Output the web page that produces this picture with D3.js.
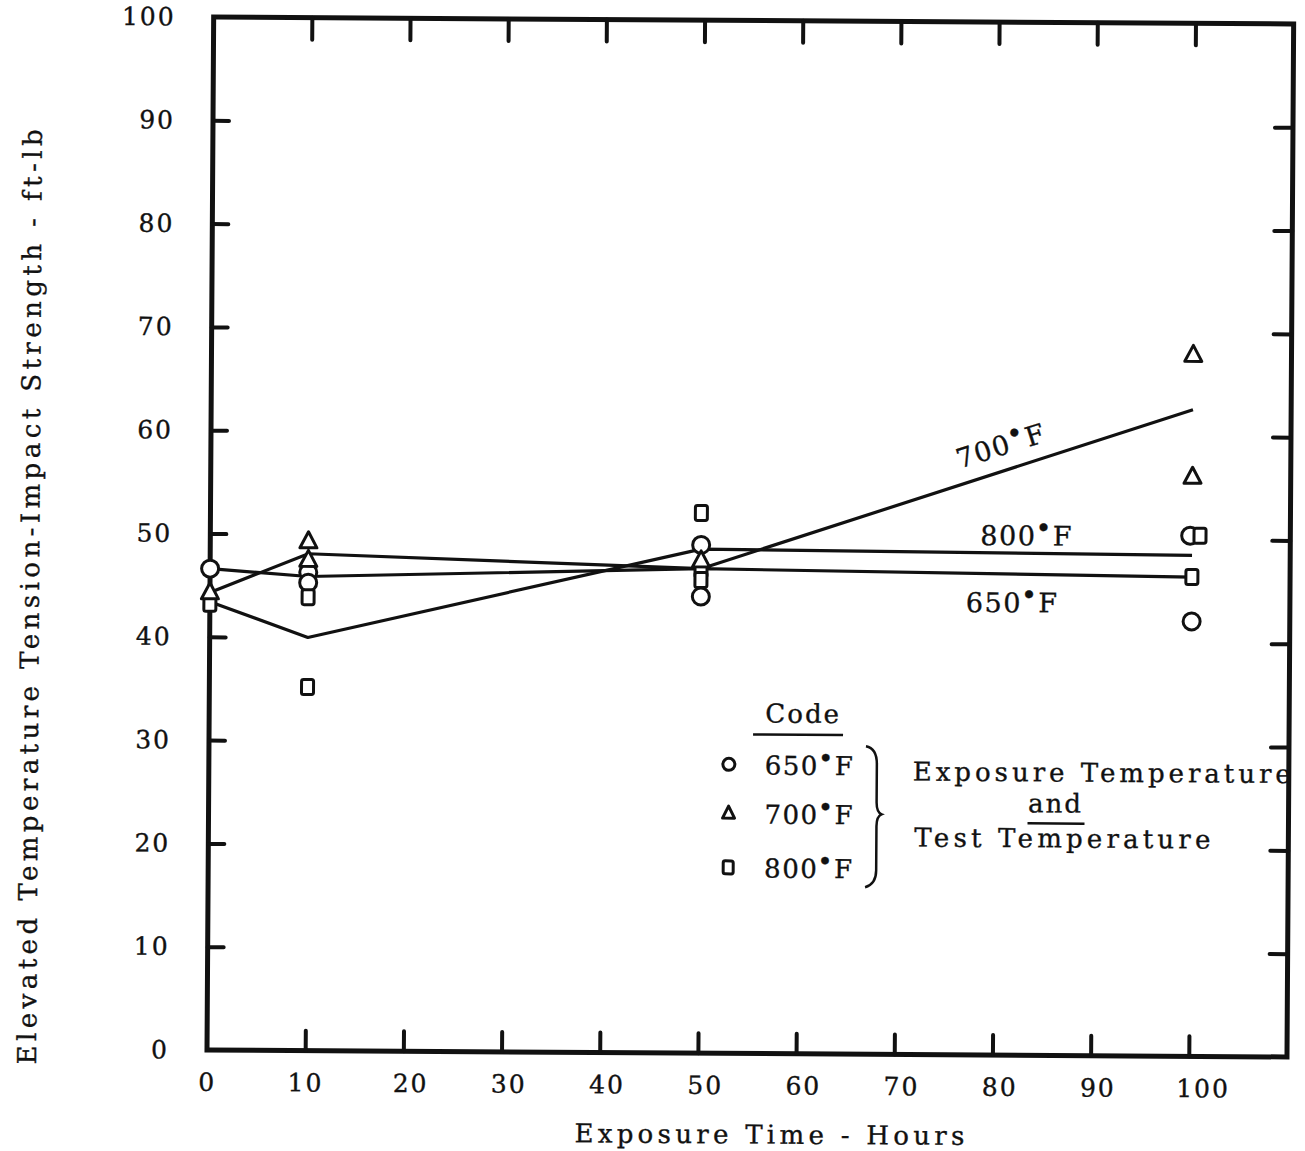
<!DOCTYPE html>
<html>
<head>
<meta charset="utf-8">
<script src="https://cdn.jsdelivr.net/npm/d3@7"></script>
<style>
  html, body { margin: 0; padding: 0; background: #fff; }
  svg { display: block; }
  text { font-family: "DejaVu Serif", "Liberation Serif", serif; fill: #111; stroke: #111; stroke-width: 0.35px; }
</style>
</head>
<body>
<svg id="chart" width="1305" height="1151"></svg>
<script>
// ---- data -------------------------------------------------------------
const xTickValues = [0, 10, 20, 30, 40, 50, 60, 70, 80, 90, 100];
const yTickValues = [0, 10, 20, 30, 40, 50, 60, 70, 80, 90, 100];

// fitted curves (exposure time in hours -> strength in ft-lb)
const curveHours = [0, 10, 50, 100];
const curve650 = [46.6, 45.9, 46.9, 46.4];
const curve700 = [44.3, 48.1, 46.9, 62.6];
const curve800 = [43.4, 40.0, 48.8, 48.5];

// individual test results
const hours650 = [0, 10, 10, 50, 50, 99.8, 100];
const values650 = [46.6, 46.3, 45.3, 49.2, 44.2, 50.4, 42.1];
const hours700 = [0, 10, 10, 50, 100, 100];
const values700 = [44.3, 49.3, 47.5, 47.7, 67.9, 56.1];
const hours800 = [0, 10, 10, 50, 50, 50, 100.8, 100];
const values800 = [43.2, 43.9, 35.2, 52.3, 46.8, 45.8, 50.4, 46.4];

const seriesTemps = ["650", "700", "800"];

// ---- layout -----------------------------------------------------------
const svg = d3.select("#chart");
const plotLeft = 207, plotRight = 1287, plotTop = 17, plotBottom = 1050;
const ink = "#111";

const x = d3.scaleLinear().domain([0, 110]).range([plotLeft, plotRight]);
const y = d3.scaleLinear().domain([0, 100]).range([plotBottom, plotTop]);

// whole sheet sits at a slight clockwise tilt
const g = svg.append("g").attr("transform", `rotate(0.37, ${plotLeft}, ${plotBottom})`);

// frame
g.append("rect")
  .attr("x", plotLeft).attr("y", plotTop)
  .attr("width", plotRight - plotLeft).attr("height", plotBottom - plotTop)
  .attr("fill", "none").attr("stroke", ink).attr("stroke-width", 5);

function styleAxis(sel) {
  sel.select(".domain").remove();
  sel.selectAll(".tick line").attr("stroke", ink).attr("stroke-width", 4).attr("stroke-linecap", "round");
  sel.selectAll(".tick text")
    .attr("fill", ink)
    .style("font-size", "25px")
    .style("letter-spacing", "2px");
}

// left axis: inward ticks, labels outside
g.append("g").attr("transform", `translate(${plotLeft},0)`)
  .call(d3.axisLeft(y).tickValues(yTickValues).tickSizeInner(-16).tickSizeOuter(0).tickPadding(38)
    .tickFormat(d3.format("d")))
  .call(styleAxis)
  .call(s => s.selectAll(".tick line").filter(d => d === 0 || d === 100).remove());

// bottom axis; the typed labels sit a little right of their ticks
g.append("g").attr("transform", `translate(0,${plotBottom})`)
  .call(d3.axisBottom(x).tickValues(xTickValues).tickSizeInner(-20).tickSizeOuter(0).tickPadding(23)
    .tickFormat(d3.format("d")))
  .call(styleAxis)
  .call(s => s.selectAll(".tick line").filter(d => d === 0).remove())
  .call(s => s.selectAll(".tick text").attr("dx", d => d >= 100 ? 14 : d >= 20 ? 7 : 0));

// top axis: ticks only
g.append("g").attr("transform", `translate(0,${plotTop})`)
  .call(d3.axisTop(x).tickValues(xTickValues.filter(d => d > 0)).tickSizeInner(-22).tickSizeOuter(0).tickFormat(""))
  .call(styleAxis);

// right axis: ticks only
g.append("g").attr("transform", `translate(${plotRight},0)`)
  .call(d3.axisRight(y).tickValues(yTickValues.filter(d => d > 0 && d < 100)).tickSizeInner(-18).tickSizeOuter(0).tickFormat(""))
  .call(styleAxis);

// ---- curves -----------------------------------------------------------
const line = d3.line().x(d => x(d[0])).y(d => y(d[1]));
[curve650, curve700, curve800].forEach(vals => {
  g.append("path")
    .datum(curveHours.map((h, i) => [h, vals[i]]))
    .attr("d", line)
    .attr("fill", "none")
    .attr("stroke", ink)
    .attr("stroke-width", 3.2)
    .attr("stroke-linejoin", "round");
});

// ---- markers ----------------------------------------------------------
function circleMark(sel, r) {
  sel.append("circle").attr("r", r)
    .attr("fill", "#fff").attr("stroke", ink).attr("stroke-width", 3);
}
function triangleMark(sel, w, h) {
  sel.append("path")
    .attr("d", `M0,${-h * 0.6}L${w / 2},${h * 0.4}L${-w / 2},${h * 0.4}Z`)
    .attr("fill", "#fff").attr("stroke", ink).attr("stroke-width", 3).attr("stroke-linejoin", "round");
}
function squareMark(sel, w, h) {
  sel.append("rect").attr("x", -w / 2).attr("y", -h / 2).attr("width", w).attr("height", h).attr("rx", 2)
    .attr("fill", "#fff").attr("stroke", ink).attr("stroke-width", 3);
}

const marks = g.append("g");
marks.selectAll("g.c650").data(hours650.map((h, i) => [h, values650[i]])).join("g")
  .attr("class", "c650")
  .attr("transform", d => `translate(${x(d[0])},${y(d[1])})`)
  .each(function () { circleMark(d3.select(this), 8.5); });
marks.selectAll("g.s800").data(hours800.map((h, i) => [h, values800[i]])).join("g")
  .attr("class", "s800")
  .attr("transform", d => `translate(${x(d[0])},${y(d[1])})`)
  .each(function () { squareMark(d3.select(this), 12, 15); });
marks.selectAll("g.t700").data(hours700.map((h, i) => [h, values700[i]])).join("g")
  .attr("class", "t700")
  .attr("transform", d => `translate(${x(d[0])},${y(d[1])})`)
  .each(function () { triangleMark(d3.select(this), 17, 16); });

// ---- text helpers -----------------------------------------------------
function tempLabel(sel, t, size) {
  sel.style("font-size", size + "px").style("letter-spacing", "1.5px");
  sel.append("tspan").text(t);
  sel.append("tspan").text("•").attr("dy", "-0.3em").attr("dx", -1);
  sel.append("tspan").text("F").attr("dy", "0.3em").attr("dx", 0);
  return sel;
}

// curve labels
g.append("text").attr("transform", "translate(956,464) rotate(-18)")
  .call(s => tempLabel(s, seriesTemps[1], 27));
g.append("text").attr("x", 977).attr("y", 540)
  .call(s => tempLabel(s, seriesTemps[2], 27));
g.append("text").attr("x", 963).attr("y", 607)
  .call(s => tempLabel(s, seriesTemps[0], 27));

// ---- legend -----------------------------------------------------------
const lg = g.append("g");
lg.append("text").attr("x", 801).attr("y", 719).attr("text-anchor", "middle")
  .style("font-size", "26px").style("letter-spacing", "2px").text("Code");
lg.append("line").attr("x1", 751).attr("x2", 841).attr("y1", 731).attr("y2", 731)
  .attr("stroke", ink).attr("stroke-width", 2.5);

const legendRows = [761, 810, 864];
lg.append("g").attr("transform", `translate(727,${legendRows[0]})`).call(s => circleMark(s, 6));
lg.append("g").attr("transform", `translate(727,${legendRows[1]})`).call(s => triangleMark(s, 12, 12));
lg.append("g").attr("transform", `translate(727,${legendRows[2]})`).call(s => squareMark(s, 10, 13));
seriesTemps.forEach((t, i) => {
  lg.append("text").attr("x", 763).attr("y", legendRows[i] + 10)
    .call(s => tempLabel(s, t, 26));
});

// brace
lg.append("path")
  .attr("d", "M864,742 Q875,744 875,760 L875,798 Q875,808 880,810 Q875,812 875,822 L875,866 Q875,880 864,883")
  .attr("fill", "none").attr("stroke", ink).attr("stroke-width", 2.5);

lg.append("text").attr("x", 911).attr("y", 776)
  .attr("textLength", 378).attr("lengthAdjust", "spacing")
  .style("font-size", "26px").text("Exposure Temperature");
lg.append("text").attr("x", 1054).attr("y", 807).attr("text-anchor", "middle")
  .style("font-size", "26px").style("letter-spacing", "2px").text("and");
lg.append("line").attr("x1", 1026).attr("x2", 1083).attr("y1", 818).attr("y2", 818)
  .attr("stroke", ink).attr("stroke-width", 2.5);
lg.append("text").attr("x", 913).attr("y", 842)
  .attr("textLength", 296).attr("lengthAdjust", "spacing")
  .style("font-size", "26px").text("Test Temperature");

// ---- axis titles ------------------------------------------------------
g.append("text").attr("x", 575).attr("y", 1140)
  .attr("textLength", 390).attr("lengthAdjust", "spacing")
  .style("font-size", "26px").text("Exposure Time - Hours");

g.append("text").attr("transform", "translate(36,598) rotate(-90)")
  .attr("text-anchor", "middle")
  .attr("textLength", 935).attr("lengthAdjust", "spacing")
  .style("font-size", "26px").text("Elevated Temperature Tension-Impact Strength - ft-lb");
</script>
</body>
</html>
